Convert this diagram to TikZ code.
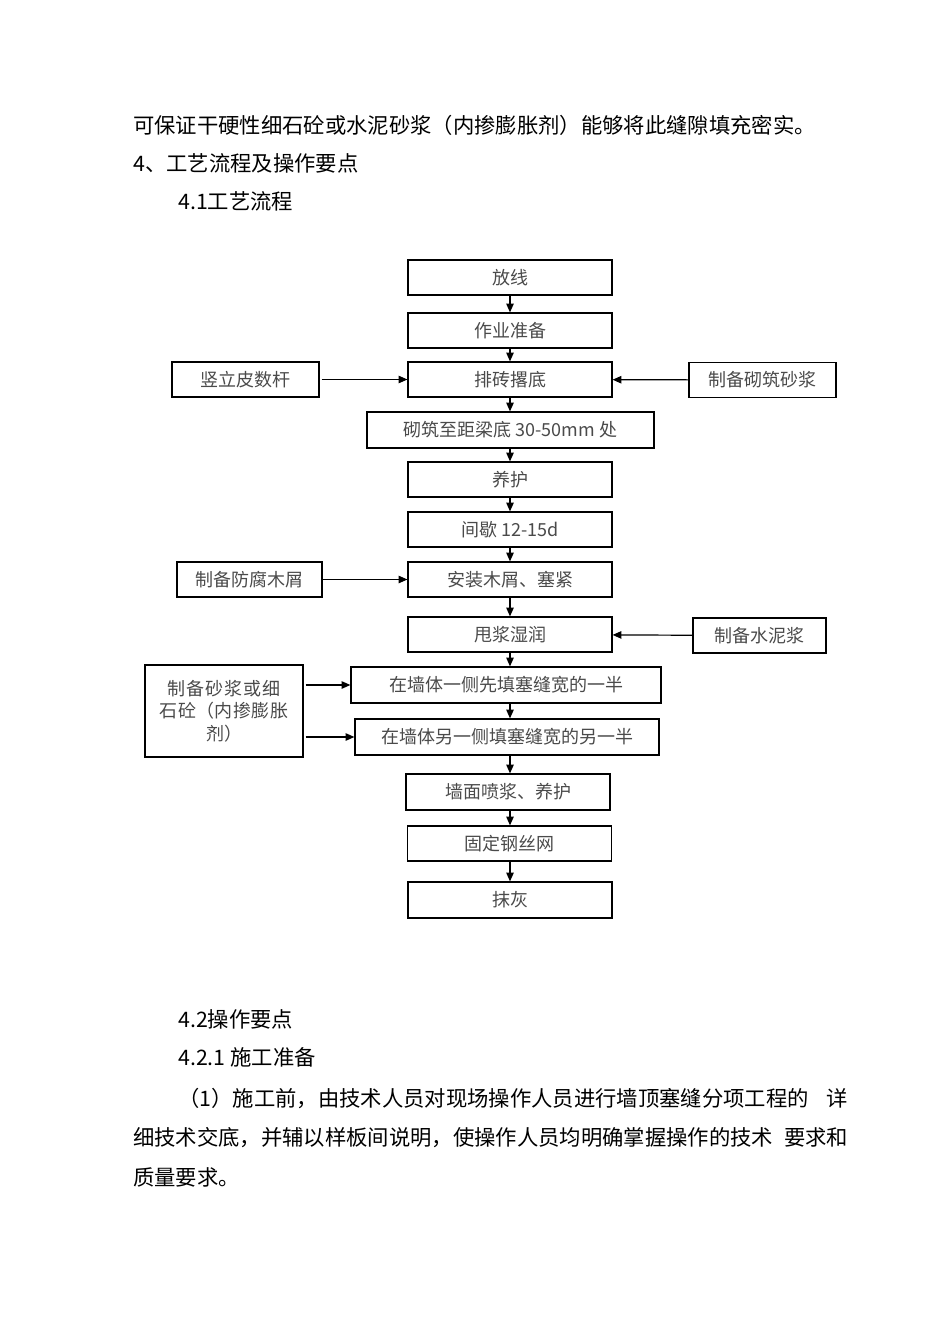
\documentclass[tikz,border=0pt]{standalone}
\usepackage{fontspec}
\usepackage{xcolor}
\usepackage{tikz}
\usetikzlibrary{arrows.meta, positioning}
\newfontfamily\cjk{Noto Sans CJK SC}
\XeTeXlinebreaklocale "zh"
\XeTeXlinebreakskip=0pt plus 2pt
\definecolor{boxtext}{HTML}{4A4A4A}

\begin{document}
\begin{tikzpicture}[
  x=0.75pt, y=-0.75pt,
  proc/.style={rectangle, draw, line width=0.9pt, minimum width=153pt, minimum height=26.25pt, inner sep=0pt, align=center, font=\cjk\fontsize{13.5}{17}\selectfont, text=boxtext},
  prep/.style={proc, minimum width=110.25pt},
  body/.style={anchor=west, inner sep=0pt, font=\cjk\fontsize{16}{20}\selectfont},
  arr/.style={-{Triangle[length=6.5pt, width=5.5pt]}, line width=0.9pt}
]
  \useasboundingbox (0,0) rectangle (950,1344);
  % running text above the chart
  \node[body] (t1) at (133,125) {\makebox[511.5pt][s]{可保证干硬性细石砼或水泥砂浆（内掺膨胀剂）能够将此缝隙填充密实。}};
  \node[body] (t2) at (133,163) {4、工艺流程及操作要点};
  \node[body] (t3) at (178,201) {4.1工艺流程};

  % main chain
  \node[proc] (fangxian) at (510,277.5) {放线};
  \node[proc] (zhunbei) at (510,330.5) {作业准备};
  \node[proc] (paizhuan) at (510,379.5) {排砖撂底};
  \node[proc, minimum width=215.25pt, minimum height=27pt] (qizhu) at (510.5,430) {砌筑至距梁底 30-50mm 处};
  \node[proc] (yanghu) at (510,479.5) {养护};
  \node[proc] (jianxie) at (510,529.5) {间歇 12-15d};
  \node[proc] (muxie) at (510,579.5) {安装木屑、塞紧};
  \node[proc] (shuajiang) at (510,634.5) {甩浆湿润};
  \node[proc, minimum width=232.5pt, minimum height=27pt] (tianyi) at (506,685) {在墙体一侧先填塞缝宽的一半};
  \node[proc, minimum width=228pt, minimum height=27pt] (tianer) at (507,737) {在墙体另一侧填塞缝宽的另一半};
  \node[proc, minimum height=27pt] (penjiang) at (508,792) {墙面喷浆、养护};
  \node[proc] (gangsiwang) at (509.5,843.5) {固定钢丝网};
  \node[proc, minimum height=27pt] (mohui) at (510,900) {抹灰};

  % side inputs
  \node[prep] (pishu) at (245.5,379.5) {竖立皮数杆};
  \node[prep] (shajiang) at (762.5,380) {制备砌筑砂浆};
  \node[prep, minimum width=108.75pt] (fangfu) at (249.5,579.5) {制备防腐木屑};
  \node[prep, minimum width=99.75pt] (shuinijiang) at (759.5,635.5) {制备水泥浆};
  \node[prep, minimum width=118.5pt, minimum height=69pt, text width=108pt] (shaji) at (224,711) {制备砂浆或细\\石砼（内掺膨胀\\剂）};

  % flow arrows
  \foreach \a/\b in {fangxian/zhunbei, zhunbei/paizhuan, paizhuan/qizhu, qizhu/yanghu, yanghu/jianxie, jianxie/muxie, muxie/shuajiang, shuajiang/tianyi, tianyi/tianer, tianer/penjiang, penjiang/gangsiwang, gangsiwang/mohui}
    \draw[arr] (\a.south -| fangxian) -- (\b.north -| fangxian);
  \draw[arr, shorten <=1.5pt] (pishu) -- (paizhuan);
  \draw[arr] (shajiang) -- (paizhuan);
  \draw[arr] (fangfu) -- (muxie);
  \draw[arr] (shuinijiang) -- (shuajiang);
  \draw[arr, shorten <=1.5pt] (shaji.east |- tianyi) -- (tianyi.west);
  \draw[arr, shorten <=1.5pt] (shaji.east |- tianer) -- (tianer.west);

  % running text below the chart
  \node[body] (t4) at (178,1019) {4.2操作要点};
  \node[body] (t5) at (178,1057) {4.2.1 施工准备};
  \node[body] (t6) at (178,1098) {\makebox[502.5pt][s]{（1）施工前，由技术人员对现场操作人员进行墙顶塞缝分项工程的 详}};
  \node[body] (t7) at (133,1138) {\makebox[536.25pt][s]{细技术交底，并辅以样板间说明，使操作人员均明确掌握操作的技术 要求和}};
  \node[body] (t8) at (133,1177) {质量要求。};
\end{tikzpicture}
\end{document}
